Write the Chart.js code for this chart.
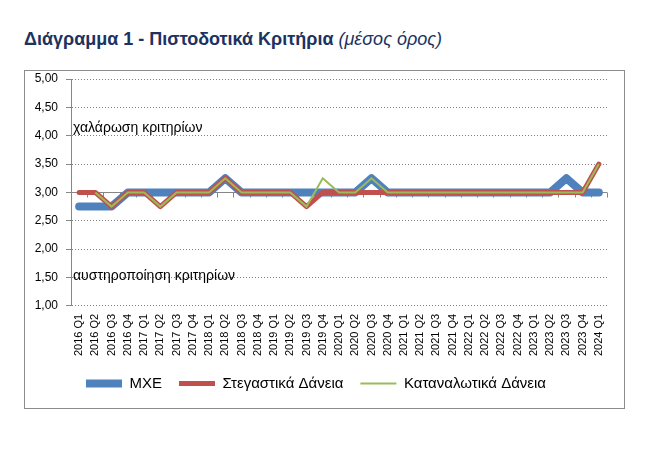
<!DOCTYPE html>
<html>
<head>
<meta charset="utf-8">
<script src="https://cdn.jsdelivr.net/npm/chart.js@4.4.1/dist/chart.umd.min.js"></script>
<style>
  html, body { margin: 0; padding: 0; background: #ffffff; }
  body { width: 660px; height: 453px; position: relative; overflow: hidden; }
  #title { position: absolute; left: 24px; top: 29px; font-family: "Liberation Sans", Arial, sans-serif; font-size: 18px; color: #1c3260; white-space: nowrap; }
  #title b { font-weight: bold; }
  #title i { font-style: italic; font-weight: normal; }
  #frame { position: absolute; left: 24px; top: 70px; width: 601px; height: 339px; border: 1px solid #8c8c8c; box-sizing: border-box; }
  #frame canvas { display: block; }
</style>
</head>
<body>
<div id="title"><b>Διάγραμμα 1 - Πιστοδοτικά Κριτήρια</b> <i>(μέσος όρος)</i></div>
<div id="frame"><canvas id="c" width="599" height="337"></canvas></div>
<script>
const categories = [
  "2016 Q1","2016 Q2","2016 Q3","2016 Q4",
  "2017 Q1","2017 Q2","2017 Q3","2017 Q4",
  "2018 Q1","2018 Q2","2018 Q3","2018 Q4",
  "2019 Q1","2019 Q2","2019 Q3","2019 Q4",
  "2020 Q1","2020 Q2","2020 Q3","2020 Q4",
  "2021 Q1","2021 Q2","2021 Q3","2021 Q4",
  "2022 Q1","2022 Q2","2022 Q3","2022 Q4",
  "2023 Q1","2023 Q2","2023 Q3","2023 Q4",
  "2024 Q1"
];
const mxe = [2.75,2.75,2.75,3, 3,3,3,3, 3,3.25,3,3, 3,3,3,3, 3,3,3.25,3, 3,3,3,3, 3,3,3,3, 3,3,3.25,3, 3];
const housing = [3,3,2.75,3, 3,2.75,3,3, 3,3.25,3,3, 3,3,2.75,3, 3,3,3,3, 3,3,3,3, 3,3,3,3, 3,3,3,3, 3.5];
const consumer = [null,3,2.75,3, 3,2.75,3,3, 3,3.25,3,3, 3,3,2.75,3.25, 3,3,3.25,3, 3,3,3,3, 3,3,3,3, 3,3,3,3, 3.5];
const seriesNames = ["ΜΧΕ", "Στεγαστικά Δάνεια", "Καταναλωτικά Δάνεια"];
const yTicks = [1,1.5,2,2.5,3,3.5,4,4.5,5];
const annotations = [
  { text: "χαλάρωση κριτηρίων", value: 4.14 },
  { text: "αυστηροποίηση κριτηρίων", value: 1.515 }
];
const axisCrossValue = 3;

const FONT = "'Liberation Sans', Arial, sans-serif";

const overlayPlugin = {
  id: 'overlay',
  beforeDatasetsDraw(chart) {
    const ctx = chart.ctx;
    const x = chart.scales.x, y = chart.scales.y;
    const area = chart.chartArea;
    ctx.save();
    ctx.font = "14px " + FONT;
    ctx.fillStyle = "#000000";
    ctx.textBaseline = "middle";
    ctx.textAlign = "left";
    annotations.forEach(a => ctx.fillText(a.text, area.left + 2, y.getPixelForValue(a.value)));
    const yc = Math.round(y.getPixelForValue(axisCrossValue)) + 0.5;
    ctx.strokeStyle = "#868686";
    ctx.lineWidth = 1;
    ctx.beginPath();
    ctx.moveTo(area.left, yc);
    ctx.lineTo(area.right, yc);
    const n = categories.length;
    const step = (area.right - area.left) / n;
    for (let i = 0; i <= n; i++) {
      const xb = Math.round(x.getPixelForValue(0) - step / 2 + i * step) + 0.5;
      ctx.moveTo(xb, yc);
      ctx.lineTo(xb, yc + 5);
    }
    ctx.stroke();
    ctx.restore();
  }
};

new Chart(document.getElementById('c'), {
  type: 'line',
  data: {
    labels: categories,
    datasets: [
      { label: seriesNames[0], data: mxe, borderColor: '#4F81BD', backgroundColor: '#4F81BD', borderWidth: 8, borderCapStyle: 'round', borderJoinStyle: 'round', order: 3 },
      { label: seriesNames[1], data: housing, borderColor: '#C0504D', backgroundColor: '#C0504D', borderWidth: 5, borderCapStyle: 'round', borderJoinStyle: 'round', order: 2 },
      { label: seriesNames[2], data: consumer, borderColor: '#9BBB59', backgroundColor: '#9BBB59', borderWidth: 2, borderCapStyle: 'butt', borderJoinStyle: 'miter', order: 1 }
    ]
  },
  options: {
    responsive: false,
    animation: false,
    devicePixelRatio: 1,
    elements: { point: { radius: 0, hoverRadius: 0 }, line: { tension: 0, fill: false } },
    layout: { padding: { top: 8, right: 17, left: 0, bottom: 7 } },
    plugins: {
      title: { display: false },
      tooltip: { enabled: false },
      legend: {
        position: 'bottom',
        labels: {
          usePointStyle: true,
          pointStyle: 'line',
          pointStyleWidth: 36,
          color: '#000000',
          font: { family: FONT, size: 15 },
          padding: 17,
          sort: (a, b) => a.datasetIndex - b.datasetIndex
        }
      }
    },
    scales: {
      x: {
        type: 'category',
        offset: true,
        grid: { display: false, drawTicks: false },
        border: { display: false },
        afterFit: s => { s.height -= 5; },
        ticks: {
          autoSkip: false,
          maxRotation: 90,
          minRotation: 90,
          padding: 8,
          color: '#000000',
          font: { family: FONT, size: 11 }
        }
      },
      y: {
        min: 1,
        max: 5,
        afterFit: s => { s.width = 46; s.paddingTop = 7; s.paddingBottom = 7; },
        afterBuildTicks: s => { s.ticks = yTicks.map(v => ({ value: v })); },
        ticks: {
          padding: 8,
          color: '#000000',
          font: { family: FONT, size: 12 },
          callback: v => Number(v).toFixed(2).replace('.', ',')
        },
        grid: {
          color: '#808080',
          lineWidth: 1,
          tickLength: 5,
          tickColor: '#868686',
          tickBorderDash: [],
          drawTicks: true
        },
        border: { display: true, color: '#868686', width: 1, dash: [1, 2] }
      }
    }
  },
  plugins: [overlayPlugin]
});
</script>
</body>
</html>
